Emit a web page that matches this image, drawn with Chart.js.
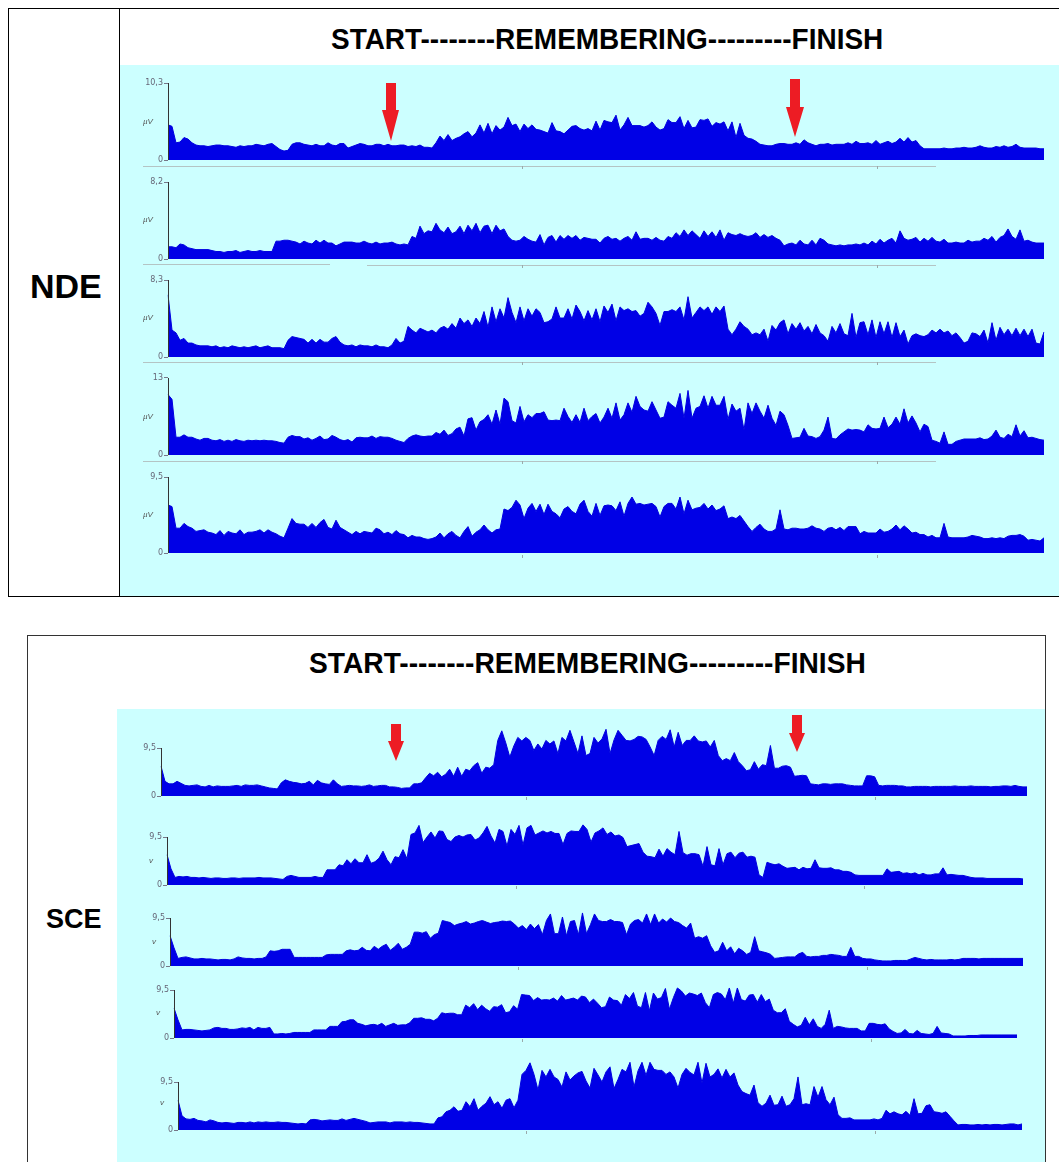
<!DOCTYPE html>
<html>
<head>
<meta charset="utf-8">
<title>NDE / SCE</title>
<script src="https://cdn.jsdelivr.net/npm/chart.js@4"></script>
<style>
  html, body { margin: 0; padding: 0; background: #fff; }
  body { position: relative; width: 1059px; height: 1162px; overflow: hidden; font-family: "Liberation Sans", Arial, sans-serif; }
  .abs { position: absolute; }
  .frame { position: absolute; border: 1px solid #000; box-sizing: border-box; }
  .panel { position: absolute; background: #ccffff; }
  .title { position: absolute; font-weight: bold; font-size: 29px; white-space: nowrap; color: #000; transform-origin: left center; }
  .side { position: absolute; font-weight: bold; color: #000; white-space: nowrap; }
  .unit { position: absolute; font-size: 8px; font-style: italic; color: #555; line-height: 8px; }
  .rule { position: absolute; background: #b4c4c4; height: 1px; }
  .mark { position: absolute; background: #9aaaaa; width: 1px; height: 3px; }
  canvas { position: absolute; }
</style>
</head>
<body>
<div class="frame" style="left:8px;top:8px;width:1060px;height:589px"></div>
<div class="frame" style="left:119px;top:8px;width:1px;height:589px;border-width:0 0 0 1px"></div>
<div class="panel" style="left:120px;top:65px;width:939px;height:531px"></div>
<div class="frame" style="left:27px;top:635px;width:1019px;height:540px;border-color:#333"></div>
<div class="panel" style="left:117px;top:709px;width:928px;height:453px"></div>
<div class="title" style="left:331px;top:23px;transform:scaleX(.964)">START--------REMEMBERING---------FINISH</div>
<div class="title" style="left:309px;top:647px;transform:scaleX(.972)">START--------REMEMBERING---------FINISH</div>
<div class="side" style="left:30px;top:267px;font-size:34px">NDE</div>
<div class="side" style="left:46px;top:904px;font-size:27px">SCE</div>
<div id="charts"></div>
<svg class="abs" style="left:0;top:0;pointer-events:none;z-index:5" width="1059" height="1162">
  <g fill="#ed1c24">
    <path d="M386 83h10v27h3l-8 31-9-31h4z"/>
    <path d="M790 79h10v28h4l-9 30-9-30h4z"/>
    <path d="M391 724h10v17h3l-8 20-8-20h3z"/>
    <path d="M792 715h10v18h3l-8 19-8-19h3z"/>
  </g>
</svg>
<script>
// values in microvolts at one sample every 4 px
const nde1 = [
  4.7,4.5,2.3,2.4,3.0,2.8,2.3,2.0,1.9,1.9,1.8,1.9,2.0,2.0,1.9,
  1.9,1.8,1.7,1.9,1.8,1.9,1.9,2.1,2.0,1.9,2.1,2.2,1.8,1.4,1.2,
  1.3,2.1,2.3,2.3,2.1,2.0,1.9,2.1,1.9,1.9,2.3,2.0,1.9,2.2,2.2,
  1.6,1.8,2.0,2.2,2.1,1.9,1.9,2.1,2.1,1.9,2.1,1.9,1.9,2.0,2.0,
  1.8,1.9,1.8,2.0,1.7,1.7,1.6,2.3,3.2,2.6,3.4,2.6,2.9,3.1,3.5,
  3.8,3.1,3.6,4.7,3.6,4.9,3.5,4.6,4.0,4.4,5.7,4.6,4.8,3.8,4.8,
  4.2,4.7,4.1,4.0,3.8,3.6,5.0,3.9,3.8,3.5,4.0,4.5,4.6,4.2,4.0,
  4.2,3.9,5.2,4.0,5.3,5.1,5.0,6.0,4.0,4.7,5.7,4.6,4.6,4.6,4.4,
  4.6,5.1,4.4,4.0,4.2,5.4,5.0,5.0,5.8,4.2,5.3,4.3,4.4,5.4,5.3,
  5.5,4.5,5.0,4.8,5.1,3.9,5.1,3.0,4.9,3.3,2.9,2.8,2.5,2.1,2.0,
  1.9,1.9,2.1,2.2,2.2,2.1,2.1,2.3,2.1,2.7,2.3,2.1,1.9,2.1,2.1,
  2.2,2.0,2.1,2.1,2.1,2.3,2.1,2.5,2.2,2.2,2.3,2.1,2.6,2.1,2.3,
  2.5,2.2,2.4,2.9,2.4,3.0,2.4,2.6,1.9,1.5,1.5,1.5,1.5,1.5,1.6,
  1.5,1.5,1.6,1.6,1.7,1.6,1.6,1.7,1.9,1.7,1.6,1.6,1.8,1.7,1.9,
  1.7,1.8,2.1,1.7,1.6,1.6,1.6,1.6,1.5,1.5
];
const nde2 = [
  1.3,1.3,1.2,1.6,1.5,1.2,1.1,1.0,1.0,1.0,1.0,0.9,0.8,0.8,0.7,
  0.8,0.8,0.9,0.7,0.8,0.9,0.8,0.8,0.9,0.8,0.8,0.8,1.9,1.9,2.0,
  2.0,1.9,1.8,1.6,1.9,1.7,1.6,2.0,1.7,2.0,1.7,1.7,1.4,1.6,1.8,
  1.8,1.8,1.7,1.7,1.9,1.7,1.6,1.8,1.6,1.7,1.7,1.8,1.6,1.5,1.6,
  1.5,2.4,2.2,3.5,2.7,3.0,2.9,3.8,3.1,2.8,3.4,2.7,2.9,3.5,2.7,
  3.6,3.0,3.8,2.8,3.5,3.6,2.7,3.6,3.0,3.2,2.4,2.0,1.9,2.0,2.4,
  2.1,1.9,1.8,2.6,1.5,2.3,2.5,1.8,2.5,2.1,2.5,2.2,2.5,2.0,2.3,
  2.2,2.1,2.1,1.7,2.2,2.4,2.1,2.2,1.9,2.2,2.4,2.0,2.9,2.1,2.2,
  2.2,2.0,2.3,2.0,1.9,2.4,2.2,2.8,2.4,3.1,2.5,3.0,2.6,2.2,3.0,
  2.4,2.9,2.3,3.1,2.0,2.8,2.6,2.5,2.7,2.5,2.4,2.5,2.8,2.3,2.6,
  2.3,2.5,2.2,2.0,1.4,1.6,1.7,1.5,2.0,1.6,1.5,2.0,1.5,2.2,2.0,
  1.6,1.5,1.4,1.5,1.4,1.5,1.5,1.6,1.5,1.7,1.5,1.9,1.6,2.1,1.7,
  2.0,2.2,1.7,3.0,2.2,2.0,2.1,2.3,1.8,2.2,1.9,2.3,1.9,1.8,2.1,
  1.7,1.7,1.8,1.7,1.7,2.0,1.8,1.9,1.9,2.2,2.0,2.4,1.8,2.3,2.5,
  3.2,2.4,2.1,3.1,1.9,2.0,1.8,1.7,1.7,1.7
];
const nde3 = [
  6.7,2.9,2.6,1.8,2.0,1.5,1.5,1.3,1.2,1.2,1.2,1.1,1.2,1.0,1.1,
  1.0,1.2,1.1,1.0,1.1,1.0,1.1,1.2,1.0,1.1,1.2,1.0,1.0,1.0,0.9,
  1.8,2.2,2.1,2.0,1.9,1.5,1.9,1.5,1.9,1.6,1.6,2.0,2.2,1.6,1.3,
  1.2,1.3,1.1,1.3,1.2,1.2,1.1,1.3,1.1,1.1,1.0,1.3,2.0,1.5,1.7,
  3.3,2.9,2.6,3.1,2.9,2.7,2.9,2.6,3.1,3.3,3.0,3.6,3.1,4.2,3.6,
  4.0,3.3,4.2,3.6,4.9,3.2,5.4,3.8,5.2,4.2,6.4,4.8,3.7,5.4,3.9,
  5.2,4.4,5.2,4.8,3.7,3.8,4.1,5.4,4.2,4.2,5.2,4.1,5.6,4.9,3.9,
  5.0,4.0,5.2,3.8,5.5,4.8,5.7,3.9,5.4,5.0,5.2,4.9,5.0,4.4,4.7,
  5.9,5.4,4.7,3.4,4.9,4.9,5.1,4.9,5.4,4.0,6.5,4.2,4.8,5.4,5.0,
  5.4,4.6,5.4,4.9,5.5,3.0,2.4,3.0,3.8,3.3,3.0,2.4,2.6,2.4,3.0,
  1.7,3.4,2.9,3.7,4.0,2.5,3.6,3.0,3.7,2.8,3.3,2.5,3.5,2.6,2.3,
  1.7,3.3,2.6,3.6,2.5,2.3,4.7,2.1,3.7,3.8,2.4,4.0,2.1,3.8,2.5,
  3.8,2.1,3.7,2.2,2.9,1.4,2.3,2.5,2.3,2.2,2.4,2.9,2.6,3.0,2.6,
  2.8,2.3,2.6,2.1,1.5,1.7,2.6,2.5,2.2,2.9,1.5,3.7,1.8,3.2,2.4,
  3.0,2.3,3.1,2.3,3.0,2.2,3.0,1.5,1.4,2.7
];
const nde4 = [
  10.2,9.4,3.0,3.0,3.4,3.0,3.0,2.7,2.5,2.8,2.8,2.5,2.4,2.6,2.3,
  2.5,2.3,2.6,2.4,2.3,2.5,2.4,2.5,2.4,2.5,2.4,2.4,2.3,2.1,2.0,
  3.0,3.3,3.1,3.1,2.7,2.9,2.5,2.8,3.2,2.6,2.7,3.3,3.0,2.6,2.4,
  2.6,2.2,2.9,3.0,2.9,2.9,3.2,2.8,3.1,3.0,3.0,2.8,2.5,2.3,2.1,
  2.8,3.2,3.4,3.2,3.1,3.2,3.2,3.8,3.5,4.2,3.3,3.6,4.4,4.7,3.2,
  6.1,6.3,4.2,5.6,6.0,6.8,5.2,7.6,5.2,9.6,9.0,5.8,5.4,8.2,5.6,
  6.8,6.3,7.0,7.0,7.3,5.9,5.8,5.9,5.8,7.9,6.5,5.5,6.8,5.5,7.9,
  5.8,6.5,7.0,5.4,6.4,7.9,6.2,8.8,5.9,6.8,8.8,7.2,9.9,8.2,7.6,
  7.4,9.0,7.6,6.2,6.4,9.0,8.4,7.9,10.4,6.2,10.9,6.2,7.9,8.2,10.0,
  7.9,9.9,8.4,8.4,9.9,6.0,8.6,7.4,7.9,4.2,8.8,7.0,8.8,7.4,6.2,
  8.4,6.2,5.0,7.4,6.8,5.0,2.8,2.9,3.0,4.5,3.2,3.1,2.8,3.1,4.2,
  6.4,2.8,2.7,3.4,3.9,4.4,4.2,4.3,4.2,3.9,5.1,4.5,4.4,4.5,6.4,
  4.6,5.2,6.4,5.2,7.8,5.4,6.6,5.4,3.9,5.2,4.8,2.5,2.3,2.0,3.9,
  1.8,1.8,2.3,2.5,2.7,2.7,2.7,2.7,2.9,2.6,2.7,3.2,4.2,3.0,2.8,
  3.5,3.1,5.1,3.2,4.1,2.9,3.0,2.8,2.6,2.5
];
const nde5 = [
  6.0,5.8,3.1,3.1,3.7,3.3,3.1,2.7,2.8,2.9,2.6,2.5,2.3,2.8,2.2,
  2.7,2.5,2.4,2.9,2.3,2.6,2.6,2.7,2.9,2.5,2.9,2.6,2.4,2.1,1.9,
  3.1,4.3,3.7,3.6,3.6,3.2,3.7,3.2,3.8,4.2,3.2,3.0,4.1,3.2,2.9,
  2.6,2.3,2.7,2.4,2.7,2.6,2.5,3.1,2.9,2.4,2.6,2.3,2.8,2.4,2.3,
  1.9,2.2,2.0,2.0,1.8,1.7,1.8,2.0,2.5,1.9,2.4,2.7,2.2,1.9,2.7,
  3.3,2.1,2.6,2.9,3.5,2.9,2.5,2.9,3.0,5.5,5.3,5.7,6.6,6.0,4.3,
  5.6,6.2,5.2,6.1,4.8,6.1,5.2,4.9,4.4,5.5,5.8,5.2,4.9,6.1,6.6,
  5.2,4.6,6.2,4.7,5.9,6.0,5.9,5.3,6.4,4.6,6.2,7.0,6.1,6.2,6.0,
  6.1,6.2,5.8,4.5,5.8,6.2,6.2,5.5,7.0,4.9,6.6,5.4,5.6,5.7,6.2,
  5.5,6.0,5.3,5.5,5.9,4.3,4.5,4.3,4.7,4.0,3.3,2.7,3.2,3.6,3.0,
  2.7,2.7,3.0,5.4,3.0,2.9,3.1,3.1,3.0,3.0,3.1,3.4,3.1,3.0,2.7,
  3.1,3.2,2.9,3.2,2.8,3.3,3.3,3.3,2.4,2.7,2.5,2.5,2.5,3.0,2.6,
  2.7,3.0,3.5,2.9,3.4,3.0,2.5,2.6,2.3,2.3,2.0,2.2,1.9,1.9,3.7,
  2.0,1.9,1.9,1.9,1.9,2.0,2.2,2.1,2.0,1.8,1.8,1.9,1.8,1.9,1.8,
  2.1,2.2,2.2,2.3,2.1,1.6,1.7,1.6,1.5,1.9
];
const sce1 = [
  5.9,2.9,2.4,2.4,2.9,2.5,2.1,2.0,2.1,2.2,1.9,1.8,2.1,1.8,2.0,
  1.9,1.9,1.9,2.0,2.1,1.9,2.2,2.1,2.1,2.2,2.0,1.8,1.6,1.5,1.4,
  2.6,3.2,2.9,2.7,2.6,2.4,2.5,2.9,2.2,3.1,2.6,2.4,2.3,3.2,2.4,
  1.9,2.0,2.1,2.0,2.0,1.9,2.0,2.2,1.9,2.0,2.1,2.1,1.8,1.8,1.7,
  1.5,1.6,1.6,2.4,2.4,2.6,3.6,4.5,4.0,4.7,3.8,4.3,5.3,3.9,5.7,
  3.9,5.3,5.0,6.0,6.6,4.5,5.7,5.5,6.2,11.0,12.9,10.5,7.7,9.9,11.6,
  10.9,11.6,11.0,9.0,10.3,9.3,11.0,10.3,10.9,8.4,11.6,10.9,13.0,10.7,8.4,
  11.9,8.0,8.4,11.6,10.5,11.3,13.2,8.4,11.1,13.0,12.0,11.0,10.9,11.2,11.8,
  11.7,11.2,9.7,8.0,11.0,11.8,11.2,13.1,9.7,12.6,10.0,11.0,11.0,11.9,10.9,
  10.7,10.9,9.7,11.0,8.0,7.0,7.4,7.0,8.6,6.8,6.0,5.0,5.2,6.8,5.3,
  6.2,6.0,10.0,5.5,5.5,5.9,6.0,5.7,3.9,4.0,4.1,4.0,2.4,2.3,2.2,
  2.4,2.4,2.3,2.4,2.4,2.4,2.2,2.1,2.0,2.0,2.0,4.0,4.0,3.8,2.1,
  2.0,2.1,2.1,2.1,2.0,2.0,1.8,1.8,1.9,1.9,1.9,1.9,1.8,1.9,1.9,
  1.9,1.9,1.9,2.0,1.9,1.9,1.9,2.0,1.9,1.9,1.9,1.9,1.8,1.9,1.9,
  2.0,2.0,1.9,2.1,1.9,1.8,1.8
];
const sce2 = [
  6.0,3.2,1.5,1.7,1.6,1.7,1.5,1.5,1.4,1.5,1.4,1.3,1.4,1.4,1.3,
  1.3,1.4,1.4,1.3,1.4,1.4,1.4,1.4,1.5,1.4,1.4,1.4,1.3,1.2,1.1,
  1.7,1.9,1.7,1.5,1.5,1.5,1.5,1.7,1.5,1.5,3.0,3.0,3.0,4.0,3.8,
  5.0,4.2,5.2,4.4,4.4,6.0,4.3,4.6,5.3,6.7,5.0,4.0,5.6,5.4,7.0,
  5.2,10.0,10.3,11.8,8.4,9.5,10.5,9.3,10.7,10.6,9.0,8.6,9.5,9.8,9.5,
  9.9,10.0,8.9,9.3,10.3,11.6,9.7,8.3,11.0,10.6,7.7,11.0,10.0,11.8,7.9,
  11.3,11.8,9.9,10.3,10.7,10.3,10.6,10.2,10.2,8.0,10.2,10.7,10.6,10.6,11.9,
  11.0,8.5,10.3,10.7,11.3,10.0,10.5,9.7,9.9,9.4,7.6,7.8,8.0,8.2,6.5,
  5.7,5.6,5.4,7.1,5.7,7.2,6.5,6.0,10.6,6.4,5.9,6.2,6.2,6.0,3.7,
  7.6,4.0,3.8,7.2,4.0,6.2,6.5,5.4,6.3,6.5,5.5,5.7,5.5,2.0,1.5,
  4.5,4.2,4.0,4.2,3.7,3.3,3.4,3.5,3.0,3.5,3.2,3.3,5.0,3.4,3.3,
  3.3,3.4,3.0,3.0,2.7,2.7,2.5,2.0,1.9,1.9,1.9,1.9,1.9,1.9,1.9,
  3.2,2.5,2.6,2.7,2.3,2.4,2.2,2.4,2.0,2.3,2.0,2.0,2.2,2.2,3.4,
  2.0,2.1,2.0,1.9,1.9,1.7,1.5,1.4,1.4,1.4,1.3,1.3,1.3,1.3,1.3,
  1.3,1.3,1.3,1.3,1.2
];
const sce3 = [
  6.0,3.6,1.5,1.7,1.8,1.6,1.4,1.4,1.5,1.4,1.4,1.3,1.2,1.3,1.3,
  1.2,1.4,1.8,1.6,1.5,1.5,1.4,1.5,1.5,1.8,3.0,2.9,3.0,3.3,3.3,
  3.3,1.7,1.7,1.7,1.7,1.7,1.7,1.7,1.7,2.2,2.3,2.3,2.3,2.3,3.0,
  3.2,3.0,3.1,3.7,3.1,3.0,3.9,3.3,3.9,4.3,3.1,3.7,4.5,3.3,3.7,
  4.3,6.7,6.7,6.5,6.8,5.5,6.2,6.5,9.0,8.8,8.6,8.0,8.3,8.5,8.8,
  8.3,8.5,8.8,9.0,8.7,8.4,8.6,8.7,8.9,8.8,8.9,8.3,7.5,8.0,7.2,
  8.3,7.4,8.2,6.2,9.0,10.3,6.4,6.4,9.7,6.0,8.8,9.0,6.2,10.5,6.4,
  8.2,10.3,9.0,8.8,8.8,9.2,8.8,8.8,8.6,6.2,8.3,9.0,9.2,8.5,10.3,
  8.2,10.3,8.5,9.3,8.7,9.5,8.8,8.6,8.0,7.5,8.5,5.5,5.8,5.5,6.0,
  4.0,2.7,3.0,4.7,3.0,3.8,2.4,3.5,3.0,2.3,2.7,5.8,3.0,2.8,2.6,
  2.3,1.5,1.6,1.7,1.8,1.8,1.8,2.4,2.7,1.9,1.8,1.9,1.9,2.1,2.1,
  2.3,2.2,2.1,1.9,1.9,3.7,1.9,1.9,1.5,1.4,1.4,1.2,1.1,1.0,1.0,
  1.0,1.1,1.1,1.1,1.1,1.4,1.7,1.5,1.3,1.2,1.3,1.2,1.2,1.2,1.2,
  1.3,1.2,1.3,1.5,1.5,1.5,1.5,1.4,1.5,1.5,1.5,1.5,1.5,1.5,1.5,
  1.5,1.5,1.5,1.5
];
const sce4 = [
  5.9,3.6,1.6,1.7,1.7,1.6,1.5,1.4,1.5,1.6,2.0,2.1,1.9,1.9,1.7,
  1.7,1.8,2.0,1.9,2.1,1.6,2.1,1.9,1.9,2.1,0.8,0.8,0.9,0.8,0.9,
  1.1,1.1,1.1,1.1,1.1,1.6,1.6,1.6,1.6,2.3,2.3,2.3,3.2,3.3,3.6,
  3.6,2.9,2.7,2.4,2.6,2.7,2.5,2.9,2.3,2.6,2.9,2.5,2.6,2.6,3.0,
  3.9,3.9,4.0,3.7,3.7,3.4,3.9,5.0,4.8,4.9,4.9,4.6,4.6,6.5,6.0,
  6.8,5.6,6.5,5.8,5.3,6.2,6.1,6.6,5.0,5.2,6.4,5.7,8.6,8.5,8.4,
  7.4,8.0,7.5,7.6,7.5,7.9,7.3,8.4,7.5,7.7,7.9,7.5,8.3,8.1,7.0,
  7.7,6.9,6.0,6.2,8.1,7.5,7.4,6.5,8.6,7.8,9.0,6.3,6.0,9.0,5.4,
  8.9,7.7,8.0,9.8,5.7,8.0,9.9,9.3,8.3,8.9,8.7,8.4,8.9,7.0,6.0,
  8.6,9.0,8.7,7.6,9.9,6.9,9.9,7.6,7.3,8.5,8.6,7.1,8.6,7.2,7.7,
  5.5,5.0,5.0,5.8,3.3,2.7,2.2,2.5,4.1,2.6,3.8,2.3,1.9,2.7,5.5,
  1.9,2.3,2.2,2.0,1.9,1.9,1.9,1.4,1.4,2.9,2.9,2.7,2.6,2.8,1.8,
  1.3,0.9,1.0,1.7,0.9,0.8,1.5,0.9,0.8,0.7,0.9,2.3,1.0,0.9,0.8,
  0.4,0.4,0.4,0.4,0.5,0.5,0.5,0.6,0.6,0.6,0.6,0.6,0.6,0.6,0.6,
  0.6,0.6
];
const sce5 = [
  5.9,2.8,2.2,2.1,2.3,1.9,1.8,1.6,2.0,1.8,1.5,1.4,1.5,1.4,1.3,
  1.5,1.5,1.4,1.6,1.4,1.6,1.5,1.6,1.5,1.5,1.6,1.5,1.5,1.4,1.3,
  1.2,1.3,1.2,2.0,2.1,2.0,1.8,1.9,2.0,1.9,1.9,2.2,1.9,2.1,2.3,
  2.1,1.9,1.7,1.4,1.5,1.6,1.6,1.6,1.4,1.6,1.6,1.6,1.5,1.6,1.5,
  1.5,1.4,1.3,1.2,1.2,2.4,2.6,3.6,3.9,4.6,3.7,3.9,5.6,4.6,6.2,
  3.9,4.7,5.3,6.6,5.0,5.6,4.3,5.9,6.2,4.4,5.9,11.0,11.8,13.3,11.0,
  7.9,11.8,10.5,12.0,10.5,10.0,8.5,11.5,9.9,10.7,11.3,11.6,9.7,8.3,12.2,
  10.9,9.5,11.5,12.5,8.2,10.0,12.0,11.5,13.4,8.5,11.7,13.4,10.8,13.4,12.0,
  11.8,11.8,11.0,11.5,10.5,8.3,11.0,12.2,11.4,10.9,13.4,9.3,13.2,10.5,11.0,
  12.1,10.3,12.0,10.5,11.3,8.9,7.6,7.2,6.9,8.9,5.4,4.7,5.3,6.9,4.9,
  5.0,6.7,4.7,5.0,6.2,10.5,5.0,5.2,5.0,8.6,6.5,8.6,6.0,5.0,6.5,
  3.0,2.3,2.3,2.4,2.0,2.0,2.0,2.0,2.0,2.2,2.0,2.3,3.9,3.2,3.6,
  3.2,3.0,3.7,2.9,6.2,3.2,3.3,4.8,5.0,3.6,3.5,3.3,3.6,2.7,1.8,
  1.0,1.1,1.1,1.0,1.0,1.1,1.0,1.1,1.0,1.1,1.1,1.0,1.1,1.2,1.2,
  1.0,1.2
];
const traces = [nde1, nde2, nde3, nde4, nde5, sce1, sce2, sce3, sce4, sce5];
const axisMax = [10.3, 8.2, 8.3, 13, 9.5, 9.5, 9.5, 9.5, 9.5, 9.5];
const axisLabels = ['10,3', '8,2', '8,3', '13', '9,5', '9,5', '9,5', '9,5', '9,5', '9,5'];
const unitLabels = ['µV', 'µV', 'µV', 'µV', 'µV', '', 'v', 'v', 'v', 'v'];

// where each strip sits on the page: axis x, right end x, top and zero y, unit label y
const layout = [
  { x: 168, end: 1044, top: 83, zero: 160, unitY: 118 },
  { x: 168, end: 1044, top: 182, zero: 259, unitY: 216 },
  { x: 168, end: 1044, top: 280, zero: 357, unitY: 314 },
  { x: 168, end: 1044, top: 378, zero: 455, unitY: 413 },
  { x: 168, end: 1044, top: 477, zero: 553, unitY: 511 },
  { x: 161, end: 1027, top: 748, zero: 796, unitY: 0 },
  { x: 167, end: 1023, top: 837, zero: 885, unitY: 857 },
  { x: 170, end: 1023, top: 918, zero: 966, unitY: 938 },
  { x: 174, end: 1017, top: 990, zero: 1038, unitY: 1009 },
  { x: 178, end: 1022, top: 1082, zero: 1130, unitY: 1099 },
];
const rules = [
  [143, 936, 166], [143, 330, 264], [367, 936, 265], [143, 936, 362], [143, 936, 461],
];
const ruleMarks = [
  [522, 166], [877, 166], [522, 265], [877, 265], [522, 362], [877, 362], [522, 461], [877, 461], [522, 555], [877, 555],
  [526, 797], [875, 797], [516, 886], [864, 886], [518, 967], [867, 967], [522, 1039], [871, 1039], [526, 1131], [875, 1131],
];

const AXIS_W = 40;
const HEADROOM = 1.5; // the SCE traces run above their top tick, so the plot is taller than the axis
const PAD_TOP = 8; // chart.js keeps half a tick label of room, this has to cover it
const PAD_BOTTOM = 8;
const holder = document.querySelector('#charts');

rules.forEach(r => {
  const d = document.createElement('div');
  d.className = 'rule';
  d.style.cssText = `left:${r[0]}px;top:${r[2]}px;width:${r[1] - r[0]}px`;
  holder.appendChild(d);
});
ruleMarks.forEach(m => {
  const d = document.createElement('div');
  d.className = 'mark';
  d.style.cssText = `left:${m[0]}px;top:${m[1]}px`;
  holder.appendChild(d);
});

// axis line stops at the top tick, not at the top of the plot
const axisLine = {
  id: 'axisLine',
  afterDatasetsDraw(chart, args, opts) {
    const y = chart.scales.y;
    const ctx = chart.ctx;
    ctx.save();
    ctx.strokeStyle = '#333';
    ctx.lineWidth = 1;
    ctx.beginPath();
    ctx.moveTo(y.right + 0.5, y.getPixelForValue(opts.top));
    ctx.lineTo(y.right + 0.5, y.getPixelForValue(0));
    ctx.stroke();
    ctx.restore();
  },
};

traces.forEach((values, n) => {
  const box = layout[n];
  const plotH = Math.round((box.zero - box.top) * HEADROOM);
  const canvas = document.createElement('canvas');
  canvas.width = box.end - box.x + AXIS_W + 2;
  canvas.height = plotH + PAD_TOP + PAD_BOTTOM;
  canvas.style.left = box.x - AXIS_W + 'px';
  canvas.style.top = box.zero - plotH - PAD_TOP + 'px';
  holder.appendChild(canvas);

  if (unitLabels[n]) {
    const u = document.createElement('div');
    u.className = 'unit';
    u.textContent = unitLabels[n];
    u.style.left = box.x - 25 + (n > 4 ? 7 : 0) + 'px';
    u.style.top = box.unitY + 'px';
    holder.appendChild(u);
  }

  new Chart(canvas, {
    type: 'line',
    plugins: [axisLine],
    data: {
      labels: values.map((v, i) => i),
      datasets: [
        {
          data: values,
          borderColor: '#0000e0',
          backgroundColor: '#0000e6',
          borderWidth: 1,
          pointRadius: 0,
          tension: 0,
          fill: 'origin',
        },
      ],
    },
    options: {
      responsive: false,
      animation: false,
      layout: { padding: { top: PAD_TOP, bottom: PAD_BOTTOM, left: 0, right: 2 } },
      plugins: {
        legend: { display: false },
        tooltip: { enabled: false },
        axisLine: { top: axisMax[n] },
      },
      scales: {
        x: { display: false },
        y: {
          min: 0,
          max: axisMax[n] * plotH / (box.zero - box.top),
          afterBuildTicks: scale => {
            scale.ticks = [{ value: 0 }, { value: axisMax[n] }];
          },
          afterFit: scale => {
            scale.width = AXIS_W;
          },
          grid: { drawOnChartArea: false, tickLength: 4, color: '#778' },
          border: { display: false },
          ticks: {
            autoSkip: false,
            padding: 1,
            color: '#667',
            font: { size: 8, family: 'DejaVu Sans' },
            callback: value => (value === 0 ? '0' : axisLabels[n]),
          },
        },
      },
    },
  });
});
</script>
</body>
</html>
